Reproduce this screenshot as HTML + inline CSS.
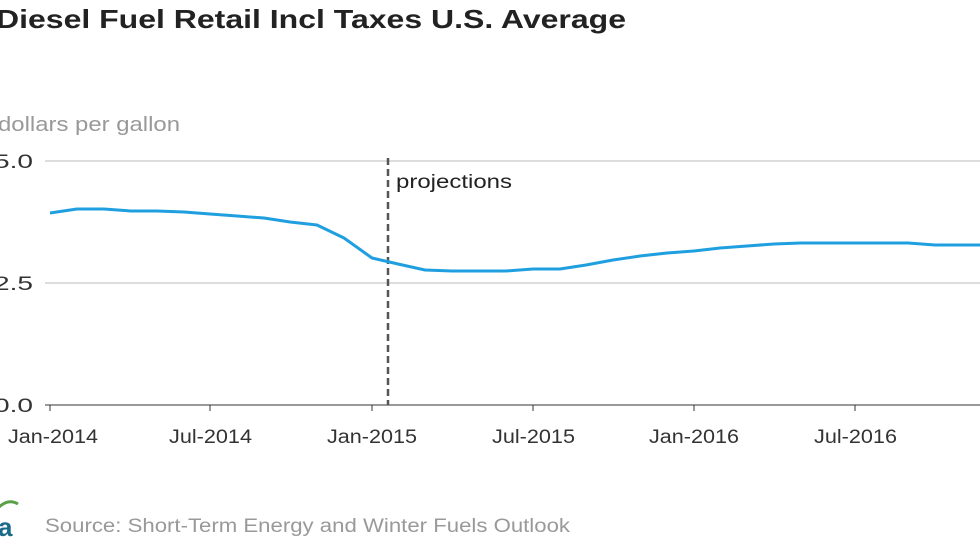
<!DOCTYPE html>
<html><head><meta charset="utf-8"><style>
html,body{margin:0;padding:0;background:#fff;width:980px;height:552px;overflow:hidden;font-family:"Liberation Sans",Arial,sans-serif}
</style></head><body>
<svg width="980" height="552" viewBox="0 0 980 552" xmlns="http://www.w3.org/2000/svg" font-family="Liberation Sans, Arial, sans-serif">
<text x="-4" y="28" font-size="26" font-weight="bold" fill="#222" textLength="630" lengthAdjust="spacingAndGlyphs">Diesel Fuel Retail Incl Taxes U.S. Average</text>
<text x="-2" y="131" font-size="20" fill="#999" textLength="182" lengthAdjust="spacingAndGlyphs">dollars per gallon</text>
<line x1="45" y1="161" x2="980" y2="161" stroke="#bbb" stroke-width="1"/>
<line x1="45" y1="283" x2="980" y2="283" stroke="#bbb" stroke-width="1"/>
<line x1="45" y1="405" x2="980" y2="405" stroke="#333" stroke-width="1"/>
<g font-size="19" fill="#333">
<text x="-6" y="168" textLength="39" lengthAdjust="spacingAndGlyphs">5.0</text>
<text x="-6" y="290" textLength="39" lengthAdjust="spacingAndGlyphs">2.5</text>
<text x="-6" y="412" textLength="39" lengthAdjust="spacingAndGlyphs">0.0</text>
</g>
<g stroke="#333" stroke-width="1">
<line x1="50" y1="405" x2="50" y2="411"/><line x1="210" y1="405" x2="210" y2="411"/>
<line x1="372" y1="405" x2="372" y2="411"/><line x1="533" y1="405" x2="533" y2="411"/>
<line x1="694" y1="405" x2="694" y2="411"/><line x1="855" y1="405" x2="855" y2="411"/>
</g>
<g font-size="19" fill="#333">
<text x="8" y="443" textLength="90" lengthAdjust="spacingAndGlyphs">Jan-2014</text>
<text x="169" y="443" textLength="83" lengthAdjust="spacingAndGlyphs">Jul-2014</text>
<text x="327" y="443" textLength="90" lengthAdjust="spacingAndGlyphs">Jan-2015</text>
<text x="492" y="443" textLength="83" lengthAdjust="spacingAndGlyphs">Jul-2015</text>
<text x="649" y="443" textLength="90" lengthAdjust="spacingAndGlyphs">Jan-2016</text>
<text x="814" y="443" textLength="83" lengthAdjust="spacingAndGlyphs">Jul-2016</text>
</g>
<line x1="388" y1="158" x2="388" y2="405" stroke="#555" stroke-width="2.5" stroke-dasharray="7,4"/>
<text x="396" y="188" font-size="19" fill="#222" textLength="116" lengthAdjust="spacingAndGlyphs">projections</text>
<polyline fill="none" stroke="#1f9fdf" stroke-width="3" stroke-linejoin="round" points="50,213 77,209 104,209 131,211 157,211 184,212 210,214 237,216 264,218 290,222 317,225 344,238 372,258 398,264 425,270 452,271 479,271 506,271 533,269 560,269 586,265 613,260 640,256 667,253 694,251 720,248 747,246 774,244 801,243 828,243 855,243 882,243 908,243 935,245 962,245 980,245"/>
<text x="-2" y="536" font-size="26" font-weight="bold" fill="#1a6a8a">a</text>
<path d="M-2,508 Q8,498 18,504" stroke="#5aa048" stroke-width="3" fill="none"/>
<text x="45" y="532" font-size="19" fill="#999" textLength="525" lengthAdjust="spacingAndGlyphs">Source: Short-Term Energy and Winter Fuels Outlook</text>
</svg>
</body></html>
